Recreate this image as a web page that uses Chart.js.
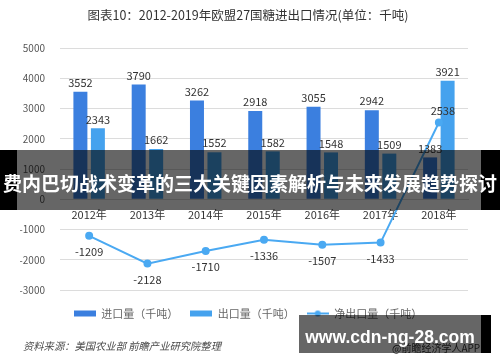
<!DOCTYPE html>
<html>
<head>
<meta charset="utf-8">
<script src="https://cdn.jsdelivr.net/npm/chart.js@4.4.1/dist/chart.umd.min.js"></script>
<style>
  body { margin: 0; background: #fff; }
  #wrap { position: relative; width: 500px; height: 362px; font-family: "Noto Sans CJK SC", "Noto Sans", sans-serif; }
  #chart { position: absolute; left: 0; top: 0; }
  .source { position: absolute; left: 23px; top: 338px; font-size: 10.3px; font-style: italic; color: #4a4a4a; white-space: nowrap; }
  .app { position: absolute; left: 392px; top: 340px; font-size: 10px; color: #333; white-space: nowrap; }
  .banner-glass { position: absolute; left: 17px; top: 150px; width: 464px; height: 60px; background: rgba(0, 0, 0, 0.6); }
  .side { position: absolute; top: 150px; height: 60px; background: #000; }
  .headline { position: absolute; left: 0; top: 170px; width: 500px; text-align: center; color: #fff; font-weight: bold; font-size: 19px; line-height: 26px; white-space: nowrap; }
  .mark-glass { position: absolute; left: 299px; top: 315px; width: 182px; height: 38px; background: rgba(0, 0, 0, 0.6); }
  .mark-side { position: absolute; left: 481px; top: 315px; width: 10px; height: 38px; background: #000; }
  .mark-text { position: absolute; left: 299px; top: 324px; width: 182px; text-align: center; color: #fff; font-weight: bold; font-size: 17.5px; line-height: 26px; font-family: "Liberation Sans", Arial, sans-serif; white-space: nowrap; }
</style>
</head>
<body>
<div id="wrap">
  <canvas id="chart" width="500" height="362"></canvas>
  <div class="source">资料来源：美国农业部 前瞻产业研究院整理</div>
  <div class="app">@前瞻经济学人APP</div>
  <div class="banner-glass"></div>
  <div class="side" style="left:0;width:17px;"></div>
  <div class="side" style="left:481px;width:19px;"></div>
  <div class="headline">费内巴切战术变革的三大关键因素解析与未来发展趋势探讨</div>
  <div class="mark-glass"></div>
  <div class="mark-side"></div>
  <div class="mark-text">www.cdn-ng-28.com</div>
</div>
<script>
const years = ['2012年', '2013年', '2014年', '2015年', '2016年', '2017年', '2018年'];
const importVals = [3552, 3790, 3262, 2918, 3055, 2942, 1383];
const exportVals = [2343, 1662, 1552, 1582, 1548, 1509, 3921];
const netVals = [-1209, -2128, -1710, -1336, -1507, -1433, 2538];
const seriesNames = ['进口量（千吨）', '出口量（千吨）', '净出口量（千吨）'];

const importColor = '#3b7fdf';
const exportColor = '#45a2ee';
const netColor = '#4aa9f2';
const cjk = '"Noto Sans CJK SC", sans-serif';

function makeSwatch(color, isLine) {
    const c = document.createElement('canvas');
    c.width = 22;
    c.height = 8;
    const g = c.getContext('2d');
    if (isLine) {
        g.strokeStyle = color;
        g.lineWidth = 2;
        g.beginPath();
        g.moveTo(0, 4);
        g.lineTo(22, 4);
        g.stroke();
        g.fillStyle = color;
        g.beginPath();
        g.arc(11, 4, 3, 0, Math.PI * 2);
        g.fill();
    } else {
        g.fillStyle = color;
        g.fillRect(0, 1, 22, 6);
    }
    return c;
}

// value labels: above bars, above/below line points depending on sign
const valueLabels = {
    id: 'valueLabels',
    afterDatasetsDraw(chart) {
        const ctx = chart.ctx;
        ctx.save();
        ctx.font = '11px ' + cjk;
        ctx.fillStyle = '#333';
        ctx.textAlign = 'center';
        ctx.textBaseline = 'middle';
        chart.data.datasets.forEach((ds, i) => {
            const meta = chart.getDatasetMeta(i);
            meta.data.forEach((el, j) => {
                const v = ds.data[j];
                if (ds.type === 'line') {
                    const dy = v >= 0 ? -12 : 16;
                    ctx.fillText(String(v), el.x + (v >= 0 ? 4 : 0), el.y + dy);
                } else {
                    ctx.fillText(String(v), el.x, el.y - 9);
                }
            });
        });
        ctx.restore();
    }
};

new Chart(document.getElementById('chart'), {
    type: 'bar',
    data: {
        labels: years,
        datasets: [
            {
                label: seriesNames[0],
                data: importVals,
                backgroundColor: importColor,
                categoryPercentage: 0.6,
                barPercentage: 0.8,
                order: 1
            },
            {
                label: seriesNames[1],
                data: exportVals,
                backgroundColor: exportColor,
                categoryPercentage: 0.6,
                barPercentage: 0.8,
                order: 1
            },
            {
                type: 'line',
                label: seriesNames[2],
                data: netVals,
                borderColor: netColor,
                backgroundColor: netColor,
                borderWidth: 2,
                pointRadius: 3,
                pointHoverRadius: 3,
                tension: 0,
                order: 0
            }
        ]
    },
    options: {
        responsive: false,
        animation: false,
        layout: {
            padding: { left: 20, right: 24, top: 0, bottom: 33 }
        },
        plugins: {
            title: {
                display: true,
                text: '图表10：2012-2019年欧盟27国糖进出口情况(单位：千吨)',
                color: '#333',
                font: { size: 12.5, weight: 'normal', family: cjk },
                padding: { top: 8, bottom: 25 }
            },
            legend: {
                position: 'bottom',
                title: { display: true, text: '', font: { size: 5 }, padding: 0 },
                labels: {
                    color: '#333',
                    font: { size: 11, family: cjk },
                    usePointStyle: true,
                    pointStyleWidth: 22,
                    boxHeight: 8,
                    padding: 12,
                    generateLabels: (chart) => chart.data.datasets.map((ds, i) => ({
                        text: ds.label,
                        pointStyle: makeSwatch(ds.borderColor || ds.backgroundColor, ds.type === 'line'),
                        fillStyle: ds.backgroundColor,
                        strokeStyle: ds.backgroundColor,
                        lineWidth: 0,
                        hidden: false,
                        datasetIndex: i
                    }))
                }
            },
            tooltip: { enabled: false }
        },
        scales: {
            x: {
                position: { y: 0 },
                grid: { display: false, drawTicks: false },
                border: { color: '#d9d9d9' },
                ticks: {
                    color: '#333',
                    padding: 9,
                    font: { size: 11, family: cjk }
                }
            },
            y: {
                min: -3000,
                max: 5000,
                afterFit: (scale) => { scale.width = 40; },
                grid: { color: '#dcdcdc', drawTicks: false },
                border: { display: false },
                ticks: {
                    stepSize: 1000,
                    color: '#555',
                    padding: 15,
                    font: { size: 10, family: cjk },
                    callback: (v) => String(v)
                }
            },
            // empty right margin so title and legend centre like the original
            yPad: {
                position: 'right',
                min: -3000,
                max: 5000,
                afterFit: (scale) => { scale.width = 8; },
                grid: { display: false, drawTicks: false },
                border: { display: false },
                ticks: { display: false }
            }
        }
    },
    plugins: [valueLabels]
});
</script>
</body>
</html>
